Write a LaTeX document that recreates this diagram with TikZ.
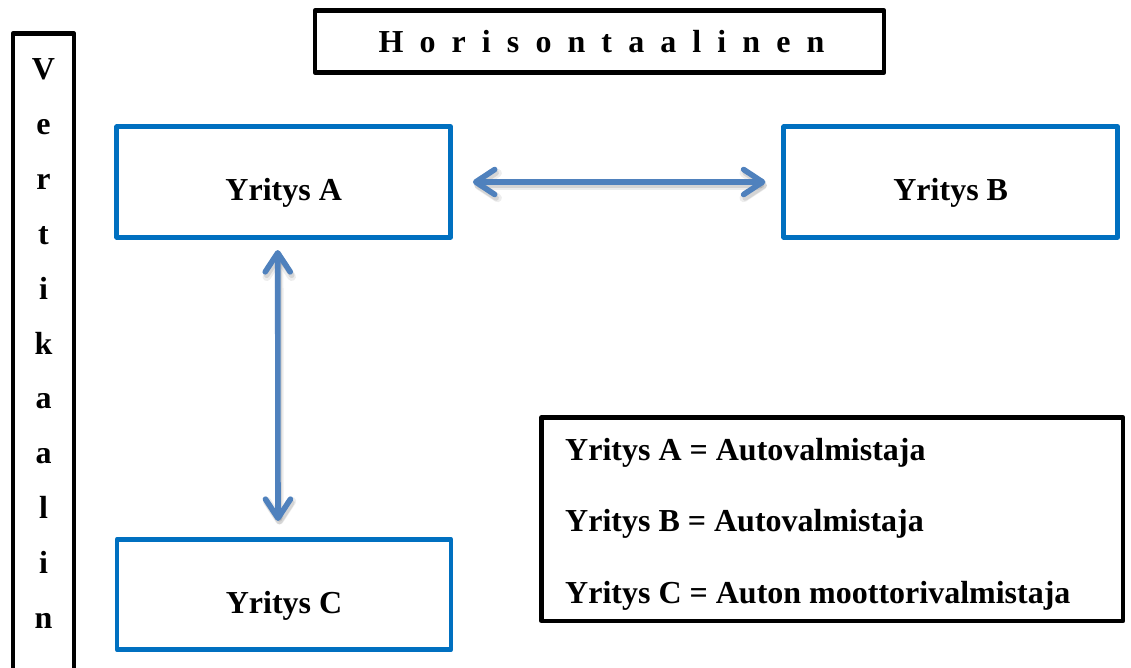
\documentclass[tikz,border=0pt]{standalone}
\usepackage{fontspec}
\setmainfont{Liberation Serif}
\usetikzlibrary{arrows.meta}
\definecolor{boxblue}{HTML}{0070C0}
\definecolor{linkblue}{HTML}{4F81BD}
% gap between the spaced-out letters of the title
\newcommand\lsp{\hspace{16.1pt}}
\begin{document}
\begin{tikzpicture}[x=1pt,y=-1pt,
  every node/.style={font=\fontsize{32}{38}\selectfont\bfseries, inner sep=0pt},
  firm/.style={draw=boxblue, line width=4.6pt, line join=round,
    minimum width=334pt, minimum height=110.5pt, text height=38pt, text depth=0pt},
  frame/.style={draw=black, line width=4.6pt, line join=round},
  barb/.tip={Straight Barb[length=19pt,width=25pt,round]},
  link/.style={draw=linkblue, line width=5.6pt, line cap=round, barb-barb},
  haze/.style={link, draw=black, transform canvas={shift={(1.5pt,-3.5pt)}}},
]
\useasboundingbox (0,0) rectangle (1131,668);

% firms
\node[firm] (A) at (283.7,182) {Yritys A};
\node[firm] (B) at (950.7,182) {Yritys B};
\node[firm] (C) at (284,594.5) {Yritys C};

% horizontal title
\node[frame, minimum width=569pt, minimum height=62pt, text height=22.4pt, text depth=0pt]
  (H) at (599.5,41.5)
  {\hspace*{4pt}H\lsp o\lsp r\lsp i\lsp s\lsp o\lsp n\lsp t\lsp a\lsp a\lsp l\lsp i\lsp n\lsp e\lsp n};

% vertical title
\node[frame, minimum width=61pt, minimum height=680pt, anchor=north] (V) at (43.5,31.5) {};
\foreach \ch [count=\i from 0] in {V,e,r,t,i,k,a,a,l,i,n}
  \node[anchor=base] (v\i) at (43.5,80+54.8*\i) {\ch};

% legend
\node[frame, minimum width=581.3pt, minimum height=203.5pt] (L) at (832.3,519.2) {};
\node[anchor=base west] (L1) at (565,460) {Yritys A = Autovalmistaja};
\node[anchor=base west] (L2) at (565,531.5) {Yritys B = Autovalmistaja};
\node[anchor=base west] (L3) at (565,603) {Yritys C = Auton moottorivalmistaja};

% soft shadows under the connectors
\begin{scope}[opacity=0.07]
  \draw[haze, line width=8.5pt, shorten <=19.9pt, shorten >=16pt] (A.east) -- (B.west);
  \draw[haze, line width=8.5pt, shorten <=10.5pt, shorten >=16pt]
    ([xshift=-6pt]A.south) -- ([xshift=-6pt]C.north);
\end{scope}
\begin{scope}[opacity=0.10]
  \draw[haze, line width=5.5pt, shorten <=19.9pt, shorten >=16pt] (A.east) -- (B.west);
  \draw[haze, line width=5.5pt, shorten <=10.5pt, shorten >=16pt]
    ([xshift=-6pt]A.south) -- ([xshift=-6pt]C.north);
\end{scope}

% connectors
\draw[link, shorten <=19.9pt, shorten >=16pt] (A.east) -- (B.west);
\draw[link, shorten <=10.5pt, shorten >=16pt]
  ([xshift=-6pt]A.south) -- ([xshift=-6pt]C.north);
\end{tikzpicture}
\end{document}
